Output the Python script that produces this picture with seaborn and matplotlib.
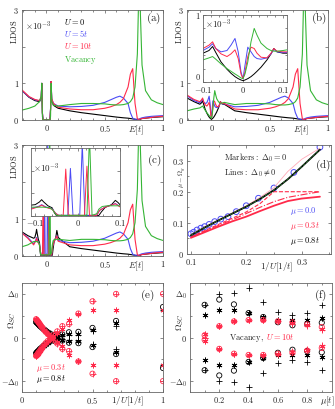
import matplotlib
matplotlib.use('Agg')
import matplotlib.pyplot as plt
import seaborn as sns
from matplotlib.ticker import MultipleLocator

# ---------------- data (LDOS in units of 1e-3) ----------------
# panel (a), low energy part
E_lo_a = [-0.21, -0.15, -0.1, -0.06, -0.045, -0.04, -0.035, -0.03, 0.03, 0.035, 0.04, 0.045, 0.06]
a_u0_lo = [0.8, 0.62, 0.53, 0.5, 0.6, 1.0, 0.2, 0.0, 0.0, 0.3, 1.05, 0.55, 0.4]
a_u5_lo = [0.8, 0.63, 0.55, 0.52, 0.62, 1.0, 0.2, 0.0, 0.0, 0.3, 1.05, 0.58, 0.45]
a_u10_lo = [0.82, 0.64, 0.56, 0.53, 0.63, 1.0, 0.2, 0.0, 0.0, 0.3, 1.05, 0.58, 0.45]
a_vac_lo = [0.27, 0.32, 0.38, 0.5, 0.65, 1.0, 0.1, 0.0, 0.0, 0.1, 1.0, 0.5, 0.4]

# high energy part, same in (a), (b), (c)
E_hi = [0.1, 0.2, 0.3, 0.4, 0.5, 0.55, 0.6, 0.63, 0.66, 0.7, 0.72, 0.74, 0.76, 0.78, 0.79, 0.8, 0.81, 0.82, 0.85, 0.9, 0.95, 1.0]
u0_hi = [0.32, 0.25, 0.2, 0.16, 0.12, 0.1, 0.08, 0.07, 0.06, 0.05, 0.04, 0.03, 0.02, 0.01, 0.01, 0.02, 0.03, 0.04, 0.05, 0.07, 0.08, 0.09]
u5_hi = [0.38, 0.36, 0.37, 0.4, 0.48, 0.55, 0.62, 0.65, 0.6, 0.45, 0.2, 0.05, 0.02, 0.02, 0.02, 0.03, 0.05, 0.06, 0.08, 0.1, 0.11, 0.12]
u10_hi = [0.35, 0.3, 0.28, 0.28, 0.32, 0.36, 0.42, 0.48, 0.58, 0.9, 1.25, 1.4, 0.45, 0.03, 0.02, 0.02, 0.03, 0.04, 0.05, 0.07, 0.09, 0.1]
vac_hi = [0.38, 0.42, 0.45, 0.45, 0.44, 0.42, 0.41, 0.41, 0.42, 0.45, 0.5, 0.6, 0.9, 1.8, 3.2, 3.5, 2.5, 1.5, 0.8, 0.55, 0.47, 0.42]

# panel (b)
E_lo_b = [-0.21, -0.15]
b_u0_lo = [0.6, 0.5]
b_u5_lo = [0.66, 0.53]
b_u10_lo = [0.68, 0.56]
b_vac_lo = [0.25, 0.3]
E_in_b = [-0.1, -0.085, -0.076, -0.068, -0.055, -0.04, -0.03, -0.02, -0.012, -0.005, 0.0, 0.005,
          0.012, 0.02, 0.028, 0.035, 0.045, 0.06, 0.07, 0.077, 0.085, 0.1, 0.11]
b_u0 = [0.43, 0.47, 0.53, 0.44, 0.3, 0.19, 0.13, 0.08, 0.05, 0.03, 0.02, 0.03,
        0.05, 0.08, 0.12, 0.16, 0.22, 0.33, 0.42, 0.5, 0.45, 0.43, 0.43]
b_u5 = [0.47, 0.52, 0.57, 0.5, 0.45, 0.47, 0.55, 0.65, 0.45, 0.15, 0.05, 0.25,
        0.52, 0.45, 0.38, 0.35, 0.34, 0.36, 0.42, 0.49, 0.45, 0.44, 0.44]
b_u10 = [0.5, 0.55, 0.6, 0.5, 0.42, 0.38, 0.42, 0.48, 0.35, 0.12, 0.05, 0.15,
         0.38, 0.52, 0.5, 0.43, 0.37, 0.36, 0.43, 0.5, 0.46, 0.45, 0.45]
b_vac = [0.33, 0.36, 0.38, 0.34, 0.27, 0.2, 0.16, 0.12, 0.09, 0.06, 0.05, 0.12,
         0.3, 0.6, 0.8, 0.7, 0.58, 0.5, 0.47, 0.46, 0.46, 0.47, 0.48]

# panel (c)
E_lo_c = [-0.21, -0.16]
c_u0_lo = [0.65, 0.55]
c_u5_lo = [0.62, 0.5]
c_u10_lo = [0.62, 0.48]
c_vac_lo = [0.25, 0.3]
c_u0_E = [-0.11, -0.1, -0.09, -0.085, -0.08, -0.07, -0.06, -0.055, -0.05, 0.05, 0.056, 0.065, 0.08, 0.089, 0.095, 0.1]
c_u0 = [0.48, 0.5, 0.62, 0.72, 0.62, 0.45, 0.36, 0.15, 0.02, 0.02, 0.18, 0.38, 0.5, 0.69, 0.6, 0.5]
c_u5_E = [-0.11, -0.09, -0.085, -0.075, -0.06, -0.052, -0.045, -0.023, -0.017, -0.011, 0.005, 0.011, 0.017,
          0.045, 0.052, 0.065, 0.08, 0.089, 0.1]
c_u5 = [0.33, 0.44, 0.5, 0.4, 0.32, 0.12, 0.03, 0.03, 2.1, 0.03, 0.03, 3.2, 0.03,
        0.03, 0.25, 0.4, 0.48, 0.55, 0.42]
c_u10_E = [-0.11, -0.09, -0.085, -0.075, -0.06, -0.052, -0.045, -0.034, -0.028, -0.022, 0.016, 0.022, 0.028,
           0.045, 0.052, 0.065, 0.08, 0.089, 0.1]
c_u10 = [0.3, 0.42, 0.48, 0.38, 0.3, 0.12, 0.03, 0.03, 2.07, 0.03, 0.03, 2.2, 0.03,
         0.03, 0.25, 0.39, 0.48, 0.54, 0.4]
c_vac_E = [-0.11, -0.08, -0.065, -0.058, -0.05, 0.022, 0.028, 0.034, 0.045, 0.05, 0.058, 0.07, 0.1]
c_vac = [0.39, 0.39, 0.36, 0.25, 0.03, 0.03, 3.6, 0.03, 0.1, 0.3, 0.42, 0.45, 0.45]

# panel (d): mu - Omega_g vs 1/U
d_circ_x = [0.1, 0.105, 0.111, 0.118, 0.125, 0.133, 0.143, 0.154, 0.167, 0.182, 0.2, 0.222, 0.25, 0.286, 0.333]
d_circ_y = [0.065, 0.07, 0.077, 0.083, 0.088, 0.095, 0.104, 0.112, 0.12, 0.136, 0.155, 0.179, 0.212, 0.262, 0.343]
d_x = [0.1, 0.125, 0.15, 0.175, 0.2, 0.225, 0.25, 0.275, 0.3, 0.333]
d_blk = [0.06, 0.085, 0.108, 0.13, 0.152, 0.177, 0.205, 0.24, 0.28, 0.335]
d_red_solid = [0.052, 0.07, 0.088, 0.105, 0.12, 0.138, 0.155, 0.17, 0.178, 0.184]
d_red_dash = [0.055, 0.075, 0.095, 0.115, 0.135, 0.162, 0.2, 0.2, 0.2, 0.2]
d_red_dashdot = [0.054, 0.073, 0.092, 0.11, 0.13, 0.15, 0.168, 0.182, 0.19, 0.2]
d_pink = [0.062, 0.088, 0.11, 0.132, 0.155, 0.182, 0.213, 0.265, 0.304, 0.34]

# panel (e): Omega_SC / Delta_0 vs 1/U (positive branch, mirrored)
e_x = [0.1, 0.105, 0.111, 0.118, 0.125, 0.133, 0.143, 0.154, 0.167, 0.182, 0.2, 0.222, 0.25, 0.286, 0.333, 0.4, 0.5, 0.667, 1.0]
e_red_o = [0.42, 0.4, 0.37, 0.34, 0.31, 0.27, 0.23, 0.18, 0.13, 0.08, 0.03, 0.05, 0.14, 0.26, 0.31, 0.55, 0.83, 1.0, 1.0]
e_red_s = [0.42, 0.4, 0.37, 0.34, 0.31, 0.27, 0.23, 0.18, 0.13, 0.08, 0.03, 0.04, 0.1, 0.2, 0.41, 0.55, 0.64, 0.62, 0.62]
e_blk_o = [0.36, 0.34, 0.32, 0.3, 0.27, 0.25, 0.22, 0.19, 0.16, 0.12, 0.09, 0.06, 0.05, 0.07, 0.12, 0.13, 0.22, 0.38, 0.7]
e_blk_p = [0.34, 0.32, 0.3, 0.28, 0.26, 0.24, 0.21, 0.18, 0.15, 0.11, 0.08, 0.05, 0.03, 0.03, 0.05, 0.05, 0.14, 0.27, 0.64]
e_blk_s = [0.35, 0.33, 0.31, 0.29, 0.27, 0.25, 0.22, 0.19, 0.16, 0.12, 0.09, 0.06, 0.04, 0.05, 0.08, 0.09, 0.18, 0.33, 0.62]

# panel (f): Omega_SC / Delta_0 vs mu, vacancy U = 10t
f_x = [0.1, 0.2, 0.3, 0.4, 0.5, 0.6, 0.7, 0.8, 0.9]
f_blk_o = [0.75, 0.87, 0.76, 0.56, 0.47, 0.35, 0.28, 0.31, 0.34]
f_blk_s = [0.51, 0.64, 0.63, 0.56, 0.47, 0.41, 0.39, 0.39, 0.44]
f_blk_p = [0.75, 0.99, 1.03, 1.13, 0.82, 0.58, 0.51, 0.56, 0.75]
f_red_o = [0.05, 0.26, 0.37, 0.4, 0.4, 0.37, 0.35, 0.3, 0.24]
f_red_p = [0.0, 0.26, 0.37, 0.4, 0.4, 0.37, 0.32, 0.27, 0.18]
f_red_s = [0.08, 0.26, 0.37, 0.4, 0.4, 0.37, 0.33, 0.28, 0.2]

# ---------------- style ----------------
sns.set_style('ticks')
plt.rcParams['font.family'] = ['DejaVu Serif']
plt.rcParams['mathtext.fontset'] = 'cm'
plt.rcParams['font.size'] = 6

BLK = 'k'
BLU = '#4b4bf5'
RED = '#ff2a4a'
GRN = '#35b535'
PINK = '#ffaab8'
ASTER = (6, 2, 0)


def m(v):
    return ['$%s$' % t if t else '' for t in v]


def style(ax, size=6, pad=2):
    ax.tick_params(direction='in', top=True, right=True, which='both', width=0.5,
                   color='0.35', pad=pad, labelsize=size)
    ax.tick_params(which='major', length=2.5)
    ax.tick_params(which='minor', length=1.5)
    for s in ax.spines.values():
        s.set_linewidth(0.6)
        s.set_color('0.4')
    ax.set_xlabel('')
    ax.set_ylabel('')


def curve(ax, x, y, c, lw=0.8, ls='-'):
    sns.lineplot(x=x, y=y, ax=ax, color=c, linewidth=lw, linestyle=ls, sort=False, estimator=None)


def pts(ax, x, y, c, mk, s=14, mirror=True):
    yy = list(y) + ([-v for v in y] if mirror else [])
    xx = list(x) + (list(x) if mirror else [])
    if mk == 'o':
        sns.scatterplot(x=xx, y=yy, ax=ax, marker='o', s=s, facecolor='none', edgecolor=c, linewidth=0.6)
    else:
        sns.scatterplot(x=xx, y=yy, ax=ax, marker=mk, s=s, color=c, linewidth=0.6)


def ldos_axes(ax, lab, laby):
    ax.set_xlim(-0.21, 1)
    ax.set_ylim(0, 3)
    ax.set_xticks([0, 0.5, 1], m(['0', '0.5', '1']))
    ax.set_yticks([0, 1, 2, 3], m(['0', '1', '', '3']))
    ax.xaxis.set_minor_locator(MultipleLocator(0.1))
    style(ax)
    ax.text(0.81, -0.09, r'$E[t]$', transform=ax.transAxes, ha='center', va='center', fontsize=6.5)
    ax.text(-0.055, 0.8, r'$\mathrm{LDOS}$', transform=ax.transAxes, rotation=90,
            ha='center', va='center', fontsize=6)
    ax.text(0.935, laby, lab, transform=ax.transAxes, ha='center', va='center', fontsize=8)


fig = plt.figure(figsize=(3.35, 4.09), dpi=100)
W, H = 335.0, 409.0


def rect(x0, x1, y0, y1):
    return [x0 / W, 1 - y1 / H, (x1 - x0) / W, (y1 - y0) / H]


# ---------------- (a) ----------------
ax = fig.add_axes(rect(22, 163, 10, 120))
curve(ax, E_lo_a + E_hi, a_u0_lo + u0_hi, BLK)
curve(ax, E_lo_a + E_hi, a_u5_lo + u5_hi, BLU)
curve(ax, E_lo_a + E_hi, a_u10_lo + u10_hi, RED)
curve(ax, E_lo_a + E_hi, a_vac_lo + vac_hi, GRN)
ldos_axes(ax, r'$\mathrm{(a)}$', 0.92)
ax.text(0.02, 0.85, r'$\times10^{-3}$', transform=ax.transAxes, ha='left', va='center', fontsize=6.5)
for i, (t, c) in enumerate([(r'$U=0$', BLK), (r'$U=5t$', BLU), (r'$U=10t$', RED), (r'$\mathrm{Vacancy}$', GRN)]):
    ax.text(0.3, 0.895 - 0.11 * i - (0.02 if i == 3 else 0), t, color=c, transform=ax.transAxes,
            ha='left', va='center', fontsize=6)

# ---------------- (b) ----------------
ax = fig.add_axes(rect(187, 328, 10, 120))
curve(ax, E_lo_b + E_in_b + E_hi[1:], b_u0_lo + b_u0 + u0_hi[1:], BLK)
curve(ax, E_lo_b + E_in_b + E_hi[1:], b_u5_lo + b_u5 + u5_hi[1:], BLU)
curve(ax, E_lo_b + E_in_b + E_hi[1:], b_u10_lo + b_u10 + u10_hi[1:], RED)
curve(ax, E_lo_b + E_in_b + E_hi[1:], b_vac_lo + b_vac + vac_hi[1:], GRN)
ldos_axes(ax, r'$\mathrm{(b)}$', 0.92)

ins = fig.add_axes(rect(203, 287, 15, 82))
curve(ins, E_in_b, b_u0, BLK, 0.7)
curve(ins, E_in_b, b_u5, BLU, 0.7)
curve(ins, E_in_b, b_u10, RED, 0.7)
curve(ins, E_in_b, b_vac, GRN, 0.7)
ins.set_xlim(-0.1, 0.11)
ins.set_ylim(0, 1)
ins.set_xticks([-0.1, 0, 0.1], m(['-0.1', '0', '0.1']))
ins.set_yticks([0, 1], m(['0', '1']))
ins.xaxis.set_minor_locator(MultipleLocator(0.02))
ins.yaxis.set_minor_locator(MultipleLocator(0.2))
style(ins, 6, 1.5)
ins.tick_params(axis='x', pad=2.5)
ins.get_yticklabels()[0].set_verticalalignment('bottom')
ins.text(0.02, 0.86, r'$\times10^{-3}$', transform=ins.transAxes, ha='left', va='center', fontsize=6.5)

# ---------------- (c) ----------------
ax = fig.add_axes(rect(22, 163, 145, 256))
curve(ax, E_lo_c + c_u0_E + E_hi[1:], c_u0_lo + c_u0 + u0_hi[1:], BLK)
curve(ax, E_lo_c + c_u5_E + E_hi[1:], c_u5_lo + c_u5 + u5_hi[1:], BLU)
curve(ax, E_lo_c + c_u10_E + E_hi[1:], c_u10_lo + c_u10 + u10_hi[1:], RED)
curve(ax, E_lo_c + c_vac_E + E_hi[1:], c_vac_lo + c_vac + vac_hi[1:], GRN)
ldos_axes(ax, r'$\mathrm{(c)}$', 0.86)

ins = fig.add_axes(rect(31, 120, 148, 216))
curve(ins, c_u0_E, c_u0, BLK, 0.7)
curve(ins, c_u5_E, c_u5, BLU, 0.7)
curve(ins, c_u10_E, c_u10, RED, 0.7)
curve(ins, c_vac_E, c_vac, GRN, 0.7)
ins.set_xlim(-0.11, 0.1)
ins.set_ylim(0, 3)
ins.set_xticks([-0.1, 0, 0.1], m(['-0.1', '0', '0.1']))
ins.set_yticks([0, 1, 2, 3], [])
ins.xaxis.set_minor_locator(MultipleLocator(0.02))
style(ins, 6, 1.2)
ins.text(0.02, 0.7, r'$\times10^{-3}$', transform=ins.transAxes, ha='left', va='center', fontsize=6.5)

# ---------------- (d) ----------------
ax = fig.add_axes(rect(187, 331, 145, 254))
curve(ax, d_x, d_pink, PINK, 0.6)
curve(ax, d_x, d_red_solid, RED, 1.3)
curve(ax, d_x, d_red_dash, RED, 0.8, '--')
curve(ax, d_x, d_red_dashdot, RED, 0.8, '-.')
curve(ax, d_x, d_blk, BLK, 1.3)
curve(ax, d_x, d_blk, '#2e7d32', 0.6, '--')
sns.scatterplot(x=d_circ_x, y=d_circ_y, ax=ax, marker='o', s=17, facecolor='none', edgecolor=BLU, linewidth=0.7)
ax.set_xlim(0.093, 0.353)
ax.set_ylim(0, 0.35)
ax.set_xticks([0.1, 0.2, 0.3], m(['0.1', '0.2', '0.3']))
ax.set_yticks([0, 0.1, 0.2, 0.3], m(['0', '0.1', '0.2', '0.3']))
ax.xaxis.set_minor_locator(MultipleLocator(0.05))
ax.yaxis.set_minor_locator(MultipleLocator(0.05))
style(ax)
ax.text(0.62, -0.12, r'$1/U[1/t]$', transform=ax.transAxes, ha='center', va='center', fontsize=6.5)
ax.text(-0.035, 0.705, r'$\mu-\Omega_g$', transform=ax.transAxes, rotation=90, ha='center', va='center', fontsize=5)
ax.text(0.26, 0.887, r'$\mathrm{Markers:}\ \Delta_0=0$', transform=ax.transAxes, ha='left', va='center', fontsize=6)
ax.text(0.26, 0.75, r'$\mathrm{Lines:}\ \Delta_0\neq0$', transform=ax.transAxes, ha='left', va='center', fontsize=6)
ax.text(0.715, 0.39, r'$\mu=0.0$', color=BLU, transform=ax.transAxes, ha='left', va='center', fontsize=6)
ax.text(0.715, 0.255, r'$\mu=0.3t$', color=RED, transform=ax.transAxes, ha='left', va='center', fontsize=6)
ax.text(0.715, 0.12, r'$\mu=0.8t$', color=BLK, transform=ax.transAxes, ha='left', va='center', fontsize=6)
ax.text(0.944, 0.817, r'$\mathrm{(d)}$', transform=ax.transAxes, ha='center', va='center', fontsize=8)

# ---------------- (e) ----------------
ax = fig.add_axes(rect(22, 163, 283, 392))
pts(ax, e_x, e_blk_o, BLK, 'o')
pts(ax, e_x, e_blk_p, BLK, '+')
pts(ax, e_x, e_blk_s, BLK, ASTER)
pts(ax, e_x, e_red_o, RED, 'o')
pts(ax, e_x, e_red_o, RED, '+')
pts(ax, e_x, e_red_s, RED, ASTER)
ax.set_xlim(0, 1)
ax.set_ylim(-1.25, 1.25)
ax.set_xticks([0, 0.5, 1], m(['0', '0.5', '1']))
ax.set_yticks([-1, 0, 1], [r'$-\Delta_0$', '$0$', r'$\Delta_0$'])
ax.xaxis.set_minor_locator(MultipleLocator(0.1))
ax.yaxis.set_minor_locator(MultipleLocator(0.5))
style(ax)
ax.text(0.75, -0.09, r'$1/U[1/t]$', transform=ax.transAxes, ha='center', va='center', fontsize=6.5)
ax.text(-0.07, 0.66, r'$\Omega_{SC}$', transform=ax.transAxes, rotation=90, ha='center', va='center', fontsize=6.5)
ax.text(0.1, 0.22, r'$\mu=0.3t$', color=RED, transform=ax.transAxes, ha='left', va='center', fontsize=6)
ax.text(0.1, 0.12, r'$\mu=0.8t$', color=BLK, transform=ax.transAxes, ha='left', va='center', fontsize=6)
ax.text(0.89, 0.89, r'$\mathrm{(e)}$', transform=ax.transAxes, ha='center', va='center', fontsize=8)

# ---------------- (f) ----------------
ax = fig.add_axes(rect(190, 332, 283, 392))
pts(ax, f_x, f_blk_o, BLK, 'o')
pts(ax, f_x, f_blk_p, BLK, '+')
pts(ax, f_x, f_blk_s, BLK, ASTER)
pts(ax, f_x, f_red_o, RED, 'o')
pts(ax, f_x, f_red_p, RED, '+')
pts(ax, f_x, f_red_s, RED, ASTER)
ax.set_xlim(0, 0.97)
ax.set_ylim(-1.25, 1.25)
ax.set_xticks([0.2, 0.4, 0.6, 0.8], m(['0.2', '0.4', '0.6', '0.8']))
ax.set_yticks([-1, 0, 1], [r'$-\Delta_0$', '$0$', r'$\Delta_0$'])
ax.xaxis.set_minor_locator(MultipleLocator(0.1))
ax.yaxis.set_minor_locator(MultipleLocator(0.5))
style(ax)
ax.text(0.97, -0.09, r'$\mu[t]$', transform=ax.transAxes, ha='center', va='center', fontsize=6.5)
ax.text(-0.07, 0.645, r'$\Omega_{SC}$', transform=ax.transAxes, rotation=90, ha='center', va='center', fontsize=6.5)
ax.text(0.52, 0.5, r'$\mathrm{Vacancy,}$', transform=ax.transAxes, ha='right', va='center', fontsize=6)
ax.text(0.535, 0.5, r'$U=10t$', color=RED, transform=ax.transAxes, ha='left', va='center', fontsize=6)
ax.text(0.92, 0.89, r'$\mathrm{(f)}$', transform=ax.transAxes, ha='center', va='center', fontsize=8)

fig.savefig('out.png', dpi=100)
